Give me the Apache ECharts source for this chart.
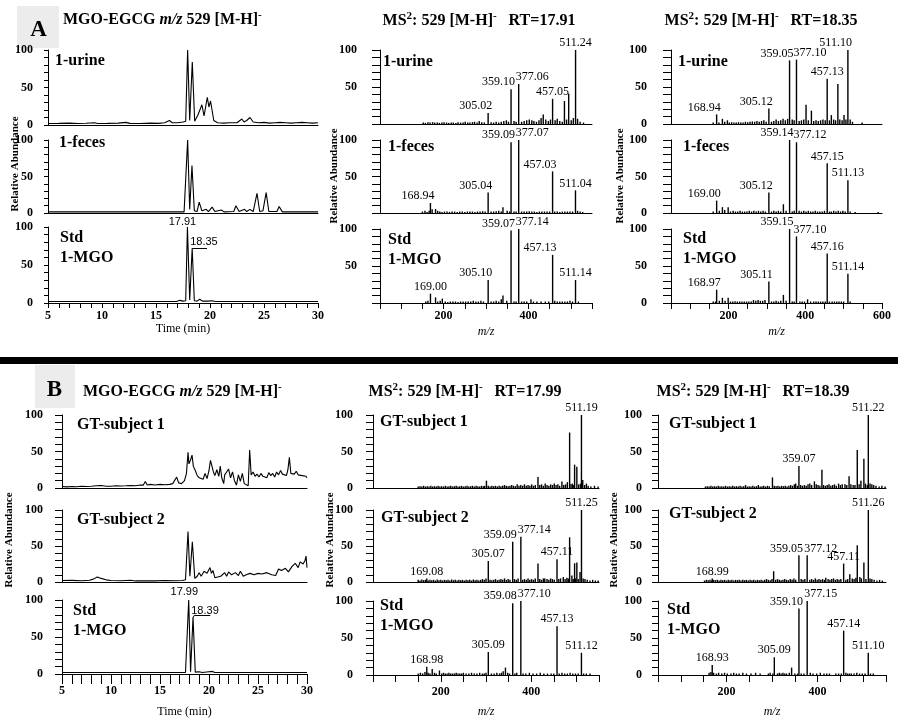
<!DOCTYPE html>
<html><head><meta charset="utf-8">
<script src="https://cdn.jsdelivr.net/npm/echarts@6/dist/echarts.min.js"></script>
<style>html,body{margin:0;padding:0;background:#fff}#c{width:902px;height:724px}</style>
</head><body><div id="c"></div>
<script>
// ---------------- DATA ----------------
// Extracted ion chromatograms: [time (min), relative abundance]
const xicA_urine = [[5,2],[6,2.2],[7,2.5],[7.8,2],[8.5,2.3],[9.3,3],[9.6,2],[10.5,2.2],[11.5,2.5],[12.2,3.5],[12.6,2.2],[13.5,2],[14.5,2.5],[15.2,2.2],[15.8,3],[16.25,6],[16.5,3],[17.0,3],[17.5,4],[17.75,5],[17.93,100],[18.12,6],[18.36,84],[18.58,5],[18.9,14],[19.25,27],[19.45,12],[19.75,37],[19.9,24],[20.05,32],[20.35,6],[20.7,3],[21.3,2.5],[21.8,3],[22.5,3],[22.95,8],[23.15,4],[23.4,6],[23.7,10],[24.0,4],[24.5,3],[25,3.5],[25.5,2.5],[26,3],[26.5,3.5],[27,3],[27.5,2.5],[28,3],[28.5,3.5],[29,3],[29.5,2.5],[30,3]];
const xicA_feces = [[5,1.5],[8,1.5],[11,1.5],[14,1.5],[17.6,1.5],[17.93,100],[18.12,5],[18.33,65],[18.55,3],[18.8,2],[19.0,15],[19.25,3],[19.65,5],[19.85,2],[20.2,8],[20.45,2],[21.05,4],[21.3,1.5],[22.2,2],[22.4,10],[22.7,2],[23.2,5],[23.4,2],[23.7,5],[24.0,2],[24.35,27],[24.6,2],[24.9,3],[25.2,28],[25.45,2],[26.2,2],[26.4,9],[26.7,1.5],[30,1.5]];
const xicA_std = [[5,2],[10,2],[15,2],[16.9,2],[17.2,3.5],[17.5,2.5],[17.75,3],[17.91,100],[18.12,4],[18.35,72],[18.55,3],[18.8,2.5],[19.05,5],[19.3,2.5],[19.8,2.5],[20.2,3],[20.5,2],[30,2]];
const xicB_gt1 = [[5,2],[5.5,1.5],[6,2],[6.5,1.8],[7,2.5],[7.5,2],[8,2.3],[8.5,3],[9,3.5],[9.5,2.5],[10,2.5],[10.5,3],[11,2.8],[11.5,3],[12,3.5],[12.5,3],[13,4],[13.3,4],[13.5,9],[13.7,4],[14,5],[14.5,4],[15,5],[15.5,4.5],[16,5],[16.3,6],[16.7,15],[16.9,7],[17.2,6],[17.5,10],[17.7,20],[17.86,49],[17.95,33],[18.1,38],[18.27,45],[18.4,30],[18.6,24],[18.8,17],[19.0,14],[19.2,16],[19.4,12],[19.6,20],[19.8,13],[20.0,24],[20.15,38],[20.3,30],[20.45,22],[20.6,17],[20.8,25],[21.0,16],[21.15,30],[21.3,14],[21.5,6],[21.6,18],[21.8,22],[22.0,26],[22.2,14],[22.4,22],[22.6,10],[22.8,4],[23.0,18],[23.2,9],[23.4,20],[23.6,6],[23.8,4],[24.0,3],[24.15,52],[24.3,18],[24.5,22],[24.7,16],[24.9,19],[25.1,15],[25.3,20],[25.5,16],[25.7,18],[25.9,14],[26.1,21],[26.3,17],[26.5,20],[26.7,15],[26.9,22],[27.1,18],[27.3,24],[27.5,19],[27.7,21],[27.9,17],[28.05,25],[28.2,42],[28.35,20],[28.5,22],[28.7,19],[28.9,23],[29.1,18],[29.3,20],[29.5,17],[29.7,19],[29.9,16],[30,14]];
const xicB_gt2 = [[5,2],[6,2.2],[7,1.8],[7.8,2.5],[8.2,4],[8.6,7],[9.0,5],[9.5,3],[10,2],[11,1.8],[12,2.5],[12.5,1.5],[13.5,1.8],[14.5,1.5],[15.5,2],[16.5,1.8],[17.3,2],[17.6,3],[17.86,70],[18.05,8],[18.3,56],[18.55,5],[18.8,8],[19.0,13],[19.2,8],[19.5,15],[19.8,12],[20.1,20],[20.25,12],[20.4,16],[20.6,6],[20.8,4],[21.2,8],[21.6,13],[21.8,8],[22.0,14],[22.3,10],[22.7,13],[23.0,9],[23.2,15],[23.5,8],[23.8,10],[24.2,12],[24.6,10],[25.0,12],[25.4,11],[25.9,13],[26.4,10],[26.8,9],[27.1,18],[27.4,16],[27.8,19],[28.1,14],[28.5,22],[28.8,26],[29.1,20],[29.3,28],[29.6,25],[29.8,30],[29.9,36],[30,20]];
const xicB_std = [[5,2],[10,2],[15,2],[17.6,2],[17.8,3],[17.93,100],[18.12,3],[18.37,77],[18.6,2.5],[19.0,3],[19.3,2],[20.0,3],[20.2,2],[20.35,3.5],[20.6,2],[30,2]];
// chromatogram peak annotations [time, abundance]
const annA = [[17.91,100],[18.35,72]];
const annB = [[17.99,100],[18.39,77]];

// MS2 spectra: labelled peaks [m/z, rel. abundance] and other peaks
const msA1_urine_pk = [[305.02,15],[359.10,47],[377.06,54],[457.05,34],[511.24,100]];
const msA1_urine_ot = [[152,2],[157,1.5],[163,2.5],[168,2],[174,2.5],[179,2],[185,2],[190,1.5],[196,2],[201,2.5],[207,2],[212,1.5],[218,2],[223,2],[229,1.5],[234,2.5],[240,2],[246,2],[251,3],[257,2],[262,2],[268,2.5],[273,3],[279,2],[284,4],[290,2.5],[296,2],[312,2.5],[318,2],[324,3],[330,2],[336,3],[342,4],[348,5],[353,3],[366,4],[371,3],[384,3],[390,4],[396,5],[402,6],[408,5],[413,4],[419,3],[425,5],[430,8],[435,13],[441,6],[447,4],[452,6],[463,5],[468,7],[474,4],[480,3],[485,31],[490,6],[495,41],[501,5],[506,8],[516,7],[522,3],[530,2]];
const msA1_feces_pk = [[168.94,13.6],[305.04,28],[359.09,97],[377.07,100],[457.03,57],[511.04,31]];
const msA1_feces_ot = [[150,2],[156,3],[161,1.5],[166,3],[173,5],[181,5.5],[186,3],[191,2],[196,1.5],[202,2],[208,2],[214,1.5],[220,2],[226,2],[232,1.5],[238,2],[244,2],[250,1.5],[256,2],[262,2],[268,2],[274,1.5],[280,2],[286,2],[292,2.5],[298,2],[312,2],[318,2],[324,2.5],[330,3],[336,2],[340,8],[350,3],[356,2],[366,2],[371,2],[384,2],[390,2],[396,2],[402,2.5],[408,2],[414,2],[420,1.5],[426,2],[432,2],[438,2],[444,2],[450,2],[462,2],[468,2],[474,1.5],[480,2],[486,2],[492,2],[498,2],[504,2],[516,3],[522,2],[528,1.5]];
const msA1_std_pk = [[169.00,12.6],[305.10,31],[359.07,98],[377.14,100],[457.13,65],[511.14,31]];
const msA1_std_ot = [[158,2],[163,3],[181,7.6],[186,2],[192,3],[197,6],[204,2],[210,1.5],[216,2],[222,2],[228,2],[234,1.5],[240,2],[246,2],[252,2],[258,2],[264,2],[270,3],[276,2],[282,2],[288,3],[294,2],[312,2],[318,2],[324,3],[330,2],[336,5],[340,10],[349,3],[366,2],[371,2],[384,2],[390,2],[396,2],[406,5],[412,2],[420,2],[430,2],[440,2],[448,2],[462,3],[468,2],[474,2],[480,2],[486,2],[492,2],[498,3],[504,2],[518,2]];

const msA2_urine_pk = [[168.94,13],[305.12,21],[359.05,86],[377.10,87],[457.13,61],[511.10,100]];
const msA2_urine_ot = [[160,2],[175,2],[184,7],[190,3],[197,5],[202,2],[208,2.5],[214,2],[220,2],[226,2.5],[232,2],[238,2],[244,3],[250,2.5],[256,3],[262,3.5],[268,3],[274,4],[280,3],[286,4],[292,5],[298,3],[312,3],[318,4],[324,6],[330,4],[336,5],[342,7],[348,5],[354,7],[366,6],[371,5],[384,4],[390,5],[396,6],[402,26],[408,5],[416,18],[422,4],[428,5],[434,4],[440,5],[446,6],[452,5],[463,5],[468,12],[474,6],[479,5],[485,54],[490,6],[496,5],[501,12],[506,6],[517,6],[523,3],[548,2]];
const msA2_feces_pk = [[169.00,17],[305.12,28],[359.14,100],[377.12,97],[457.15,68],[511.13,45]];
const msA2_feces_ot = [[160,2],[176,3],[184,8],[190,4],[199,8],[205,2],[212,3],[218,2],[224,2],[230,3],[236,2],[242,2],[248,2],[254,3],[260,2],[266,3],[272,2],[278,3],[284,2],[290,3],[296,2],[312,2],[318,3],[324,2],[330,3],[336,2],[343,12],[350,3],[366,2],[371,3],[384,3],[390,2],[396,3],[402,2],[408,3],[414,2],[420,2],[426,3],[432,2],[438,2],[444,2],[450,3],[463,2],[468,2],[474,3],[480,2],[486,3],[492,2],[498,3],[504,2],[517,2],[530,1.5],[590,1.5]];
const msA2_std_pk = [[168.97,18],[305.11,29],[359.15,100],[377.10,90],[457.16,67],[511.14,39.5]];
const msA2_std_ot = [[160,2],[166,2],[176,3],[184,7],[191,3],[199,7],[205,2],[211,2],[217,2.5],[223,2],[229,2],[235,2],[241,2],[247,2],[253,2],[259,2],[265,4],[271,3],[277,4],[283,3],[289,3],[295,4],[312,2],[318,2],[324,3],[330,2],[336,3],[343,11],[350,3],[366,2],[371,2],[386,2],[392,2],[398,2],[406,5],[414,2],[422,2],[428,2],[434,2],[440,2],[446,2],[452,2],[463,2],[470,2],[476,2],[482,2],[488,2],[494,2],[500,2],[517,2]];

const msB1_gt1_pk = [[511.19,100]];
const msB1_gt1_ot = [[485,76],[496,32],[501,29],[415,15],[301,10],[468,9],[514,11],[491,6],[150,2],[154,2.5],[158,2],[162,3],[166,2],[170,2.5],[174,2],[178,3],[182,2],[186,2.5],[190,2],[194,3],[198,2],[202,2.5],[206,2],[210,3],[214,2],[218,2.5],[222,3],[226,2],[230,2.5],[234,3],[238,2],[242,2.5],[246,3],[250,2],[254,2.5],[258,3],[262,2],[266,2.5],[270,3],[274,2],[278,3],[282,2.5],[286,2],[290,3],[294,2.5],[297,3],[305,3],[309,2],[313,3],[317,2.5],[321,3],[325,2],[329,3],[333,2.5],[337,3],[341,4],[345,3],[349,2.5],[353,3],[357,4],[361,3],[365,2.5],[369,5],[373,3],[377,4],[381,3],[385,5],[389,3],[393,4],[397,3],[401,5],[405,3],[409,4],[419,4],[423,5],[427,3],[431,6],[435,4],[439,3],[443,5],[447,4],[451,6],[455,4],[459,5],[463,3],[472,4],[476,5],[480,8],[488,5],[493,4],[505,5],[509,6],[518,4],[522,6],[526,3],[532,2],[540,3],[548,2]];
const msB1_gt2_pk = [[169.08,5],[305.07,29],[359.09,56],[377.14,63],[457.11,31.6],[511.25,100]];
const msB1_gt2_ot = [[415,25.6],[485,62],[496,26],[501,27],[490,9],[508,14],[471,7],[430,5],[150,3],[154,2],[158,3.5],[162,2.5],[166,3],[172,2],[176,3],[180,2.5],[184,3],[188,2],[192,3.5],[196,2.5],[200,3],[204,2],[208,3],[212,2.5],[216,3],[220,2],[224,3.5],[228,2.5],[232,3],[236,2],[240,3],[244,2.5],[248,3],[252,2],[256,3],[260,2.5],[264,3],[268,2],[272,3.5],[276,2.5],[280,3],[284,2],[288,3],[292,4],[296,3],[300,5],[309,3],[313,2.5],[317,3],[321,4],[325,2.5],[329,3],[333,4],[337,3],[341,5],[345,3],[349,4],[353,3],[363,4],[367,3],[371,5],[381,3],[385,4],[389,3],[393,5],[397,3],[401,4],[405,3],[409,5],[419,4],[423,3],[427,5],[435,4],[439,3],[443,5],[447,4],[451,3],[461,4],[465,5],[475,4],[479,6],[482,5],[493,4],[498,5],[504,4],[515,5],[519,4],[524,3],[530,2],[536,3],[542,2],[548,2]];
const msB1_std_pk = [[168.98,11],[305.09,31],[359.08,97],[377.10,100],[457.13,66],[511.12,30]];
const msB1_std_ot = [[343,10],[181,8],[197,6],[150,2],[155,3],[160,2],[165,4],[172,3],[176,2],[186,3],[190,2],[202,2],[206,3],[210,2],[214,2],[218,3],[222,2],[226,2],[230,2],[234,3],[238,2],[242,2],[246,2],[250,3],[256,2],[262,2],[268,3],[274,2],[280,2],[286,3],[292,2],[296,2],[300,3],[312,2],[318,2],[324,3],[330,2],[334,3],[338,5],[348,3],[352,2],[364,2],[368,3],[382,2],[388,2],[396,3],[404,2],[412,2],[420,3],[428,2],[436,2],[444,2],[450,2],[462,2],[468,3],[474,2],[480,2],[486,3],[492,2],[498,2],[504,2],[516,2],[522,2],[530,2]];

const msB2_gt1_pk = [[359.07,30],[511.22,100]];
const msB2_gt1_ot = [[487,52],[501.5,40],[409.5,25],[301,14.5],[469,16],[495,10],[515,6],[393,9],[352,6],[383,6],[425,5],[446,6],[460,5],[478,4],[154,2],[158,2.5],[162,2],[166,3],[170,2],[174,2.5],[178,2],[182,3],[186,2],[190,2.5],[194,2],[198,3],[202,2],[206,2.5],[210,2],[214,3],[218,2],[222,2.5],[226,2],[230,3],[234,2],[238,2.5],[242,4],[246,2],[250,2.5],[254,2],[258,3],[262,2],[266,2.5],[270,4],[274,2],[278,2.5],[282,3],[286,2],[290,3],[294,2.5],[305,3],[309,2.5],[313,3],[317,2],[321,3],[325,2.5],[329,3],[333,2],[337,3],[341,4],[345,3],[349,5],[356,3],[363,4],[367,3],[371,4],[375,3],[379,5],[387,4],[397,5],[401,4],[405,3],[413,4],[417,3],[421,4],[429,3],[433,4],[437,5],[441,3],[450,4],[454,5],[464,4],[473,5],[482,4],[491,5],[505,6],[509,4],[519,5],[523,4],[528,3],[535,2],[541,3],[548,2]];
const msB2_gt2_pk = [[168.99,5],[359.05,37],[377.12,37],[457.11,25.6],[511.26,100]];
const msB2_gt2_ot = [[487,51],[501.5,27],[303.6,15],[470.6,10.7],[492.7,7],[435,5],[418,6],[152,2],[156,3],[160,2.5],[164,3],[168,2],[172,3],[176,2.5],[180,3],[184,2],[188,3],[192,2.5],[196,3],[200,2],[204,3],[208,2.5],[212,3],[216,2],[220,3],[224,2.5],[228,3],[232,2],[236,3],[240,2.5],[244,3],[248,2],[252,3],[256,2.5],[260,3],[264,2],[268,3],[272,2.5],[276,3],[280,2],[284,3],[288,4],[292,3],[296,2.5],[300,4],[308,3],[312,4],[316,3],[320,2.5],[324,3],[328,4],[332,3],[336,2.5],[340,4],[344,3],[348,5],[352,3],[364,4],[368,3],[372,4],[383,3],[387,4],[391,3],[395,5],[399,3],[403,4],[407,3],[411,4],[415,3],[423,4],[427,3],[431,4],[439,3],[443,4],[447,3],[451,4],[462,3],[466,4],[476,5],[480,4],[484,6],[496,5],[506,4],[515,5],[519,4],[524,3],[530,2],[536,3],[542,2]];
const msB2_std_pk = [[168.93,13.5],[305.09,24],[359.10,90],[377.15,100],[457.14,60],[511.10,30]];
const msB2_std_ot = [[343,10],[162,3],[166,4],[172,3],[178,2],[183,3],[190,2],[196,3],[202,2],[210,2],[216,3],[222,2],[228,2],[236,3],[244,2],[254,2],[264,3],[274,2],[292,2],[296,3],[302,2],[312,2],[316,3],[320,2],[324,3],[328,2],[332,2],[338,3],[350,2],[356,2],[364,2],[370,2],[384,3],[390,2],[398,2],[406,3],[414,2],[420,2],[426,2],[440,2],[446,2],[452,2],[462,3],[466,2],[470,2],[474,2],[480,2],[486,3],[492,2],[498,2],[504,2],[516,2],[522,2]];

// text
const sampleA = ['1-urine','1-feces','Std\n1-MGO'];
const sampleB = ['GT-subject 1','GT-subject 2','Std\n1-MGO'];
const rtA = ['17.91','18.35'];
const rtB = ['17.99','18.39'];

// ---------------- LAYOUT / STYLE ----------------
const SERIF = "'Liberation Serif','Times New Roman',serif";
const SANS = "'Liberation Sans',Arial,sans-serif";
const stAL = {yTick:4, yMargin:15, xTick:5, xMargin:7, nameGap:19, zero:true};
const stAM = {yTick:8, yMargin:23, xTick:6, xMargin:7, nameGap:23, zero:false};
const stAR = {yTick:8, yMargin:24, xTick:6, xMargin:7, nameGap:23, zero:true};
const stBL = {yTick:7, yMargin:19, xTick:10, xMargin:11, nameGap:32, zero:true};
const stBM = {yTick:7, yMargin:20, xTick:7, xMargin:11, nameGap:31, zero:true};
const stBR = {yTick:6, yMargin:16, xTick:7, xMargin:11, nameGap:31, zero:true};

const panels = [
  {g:[48,50,270,75],  k:'c', d:xicA_urine, st:stAL},
  {g:[48,140,270,73], k:'c', d:xicA_feces, st:stAL},
  {g:[48,227,270,76], k:'c', d:xicA_std, st:stAL, last:true, ann:annA, annT:rtA, ann1:[-5,0], lead:[[0,0],[1.37,0]]},
  {g:[380,50,212,74], k:'m', max:550, pk:msA1_urine_pk, ot:msA1_urine_ot, al:['r','r','l','c','c'], st:stAM},
  {g:[380,140,212,73],k:'m', max:550, pk:msA1_feces_pk, ot:msA1_feces_ot, al:['r','r','r','l','r','c'], st:stAM},
  {g:[380,229,212,74],k:'m', max:550, pk:msA1_std_pk, ot:msA1_std_ot, al:['c','r','r','l','r','c'], st:stAM, last:true},
  {g:[671,50,211,74], k:'m', max:600, pk:msA2_urine_pk, ot:msA2_urine_ot, al:['r','r','r','l','c','r'], st:stAR},
  {g:[671,140,211,73],k:'m', max:600, pk:msA2_feces_pk, ot:msA2_feces_ot, al:['r','r','r','l','c','c'], st:stAR},
  {g:[671,229,211,74],k:'m', max:600, pk:msA2_std_pk, ot:msA2_std_ot, al:['r','r','r','l','c','c'], st:stAR, last:true},
  {g:[62,415,245,73], k:'c', d:xicB_gt1, st:stBL},
  {g:[62,510,245,72], k:'c', d:xicB_gt2, st:stBL},
  {g:[62,600,245,74], k:'c', d:xicB_std, st:stBL, last:true, ann:annB, annT:rtB, ann1:[-5,-3], lead:[[0,0],[0.16,3],[1.74,3]]},
  {g:[373,415,226,73],k:'m', max:550, pk:msB1_gt1_pk, ot:msB1_gt1_ot, al:['c'], st:stBM},
  {g:[373,510,226,72],k:'m', max:550, pk:msB1_gt2_pk, ot:msB1_gt2_ot, al:['c','c','r','l','c','c'], st:stBM},
  {g:[373,601,226,74],k:'m', max:550, pk:msB1_std_pk, ot:msB1_std_ot, al:['c','c','r','l','c','c'], st:stBM, last:true},
  {g:[658,415,228,73],k:'m', max:550, pk:msB2_gt1_pk, ot:msB2_gt1_ot, al:['c','c'], st:stBR},
  {g:[658,510,228,72],k:'m', max:550, pk:msB2_gt2_pk, ot:msB2_gt2_ot, al:['c','r','l','c','c'], st:stBR},
  {g:[658,601,228,74],k:'m', max:550, pk:msB2_std_pk, ot:msB2_std_ot, al:['c','c','r','l','c','c'], st:stBR, last:true}
];

// sample-name text positions (left x, centre y of first line)
const sampleTextPos = [
  [55,61,sampleA[0]],[59,143,sampleA[1]],[60,238,sampleA[2]],
  [383,62,sampleA[0]],[388,147,sampleA[1]],[388,240,sampleA[2]],
  [678,62,sampleA[0]],[683,147,sampleA[1]],[683,239,sampleA[2]],
  [77,425,sampleB[0]],[77,520,sampleB[1]],[73,611,sampleB[2]],
  [380,422,sampleB[0]],[381,518,sampleB[1]],[380,606,sampleB[2]],
  [669,424,sampleB[0]],[669,514,sampleB[1]],[667,610,sampleB[2]]
];

const grids=[], xAxes=[], yAxes=[], series=[], graphic=[];
panels.forEach((p,i)=>{
  const isC = p.k==='c';
  const last = !!p.last;
  grids.push({left:p.g[0], top:p.g[1], width:p.g[2], height:p.g[3]});
  xAxes.push({
    gridIndex:i, type:'value', min:isC?5:50, max:isC?30:p.max, interval:isC?1:50,
    axisLine:{show:true, onZero:false, lineStyle:{color:'#000', width:1}},
    axisTick:{show:last, length:p.st.xTick, lineStyle:{color:'#000', width:1}},
    axisLabel:{show:last, margin:p.st.xMargin, color:'#000', fontFamily:SERIF, fontWeight:'bold', fontSize:12,
      formatter:(v)=> isC ? (Math.round(v)%5===0 ? String(Math.round(v)) : '') : (Math.round(v)%200===0 ? String(Math.round(v)) : '')},
    splitLine:{show:false},
    name:last ? (isC ? 'Time (min)' : 'm/z') : '',
    nameLocation:'middle', nameGap:p.st.nameGap,
    nameTextStyle:{fontFamily:SERIF, fontSize:12, color:'#000', fontStyle:isC?'normal':'italic'}
  });
  const zero = p.st.zero;
  yAxes.push({
    gridIndex:i, type:'value', min:0, max:100, interval:10,
    axisLine:{show:true, onZero:false, lineStyle:{color:'#000', width:1}},
    axisTick:{show:true, length:p.st.yTick, lineStyle:{color:'#000', width:1}},
    axisLabel:{show:true, margin:p.st.yMargin, color:'#000', fontFamily:SERIF, fontWeight:'bold', fontSize:12,
      formatter:(v)=> (v===100||v===50) ? String(v) : (v===0 && zero ? '0' : '')},
    splitLine:{show:false}
  });
  if (isC) {
    const s = {type:'line', xAxisIndex:i, yAxisIndex:i, data:p.d, showSymbol:false, symbol:'none',
      lineStyle:{color:'#000', width:1.1}, silent:true, animation:false, z:3};
    if (p.ann) {
      s.markPoint = {symbol:'circle', symbolSize:0, silent:true, animation:false,
        data:[
          {coord:p.ann[0], label:{show:true, formatter:p.annT[0], position:[0,0], align:'center', verticalAlign:'bottom', offset:p.ann1, fontFamily:SANS, fontSize:11, color:'#000'}},
          {coord:p.ann[1], label:{show:true, formatter:p.annT[1], position:[0,0], align:'left', verticalAlign:'bottom', offset:[-2,-1], fontFamily:SANS, fontSize:11, color:'#000'}}
        ]};
      const pts = p.lead.map(o=>({coord:[p.ann[1][0]+o[0], p.ann[1][1]+o[1]]}));
      const segs=[];
      for (let j=0;j<pts.length-1;j++) segs.push([pts[j],pts[j+1]]);
      s.markLine = {symbol:['none','none'], silent:true, animation:false, label:{show:false},
        lineStyle:{color:'#000', width:1, type:'solid'}, data:segs};
    }
    series.push(s);
  } else {
    series.push({type:'bar', xAxisIndex:i, yAxisIndex:i, data:p.ot, barWidth:1.4, barGap:'-100%',
      itemStyle:{color:'#000'}, silent:true, animation:false});
    series.push({type:'bar', xAxisIndex:i, yAxisIndex:i, barWidth:1.4, barGap:'-100%',
      itemStyle:{color:'#000'}, silent:true, animation:false,
      label:{show:true, position:'top', distance:1, fontFamily:SERIF, fontSize:12, color:'#000',
        formatter:(d)=> d.value[0].toFixed(2)},
      data:p.pk.map((v,j)=>{
        const a = p.al[j];
        const lab = a==='r' ? {align:'right', offset:[4,0]} : a==='l' ? {align:'left', offset:[-3,0]} : {align:'center'};
        return {value:v, label:lab};
      })});
  }
});

// decorations and titles
const richT = {
  b:{fontFamily:SERIF, fontWeight:'bold', fontSize:16, color:'#000', lineHeight:20},
  i:{fontFamily:SERIF, fontWeight:'bold', fontStyle:'italic', fontSize:16, color:'#000', lineHeight:20},
  s:{fontFamily:SERIF, fontWeight:'bold', fontSize:11, color:'#000', lineHeight:11, verticalAlign:'top'}
};
function title(x,y,txt,align){
  return {type:'text', x:x, y:y, silent:true, style:{text:txt, rich:richT, align:align, verticalAlign:'middle', textAlign:align, textVerticalAlign:'middle'}};
}
graphic.push({type:'rect', shape:{x:17,y:6,width:42,height:42}, style:{fill:'#ececec'}, silent:true});
graphic.push({type:'rect', shape:{x:35,y:365,width:40,height:43}, style:{fill:'#ececec'}, silent:true});
graphic.push({type:'text', x:38.5, y:30, silent:true, style:{text:'A', fontFamily:SERIF, fontWeight:'bold', fontSize:23, fill:'#000', align:'center', verticalAlign:'middle', textAlign:'center', textVerticalAlign:'middle'}});
graphic.push({type:'text', x:54.5, y:390, silent:true, style:{text:'B', fontFamily:SERIF, fontWeight:'bold', fontSize:23, fill:'#000', align:'center', verticalAlign:'middle', textAlign:'center', textVerticalAlign:'middle'}});
graphic.push({type:'rect', shape:{x:0,y:357,width:898,height:7}, style:{fill:'#000'}, silent:true});
const t1 = '{b|MGO-EGCG }{i|m/z}{b| 529 [M-H]}{s|-}';
graphic.push(title(63,20,t1,'left'));
graphic.push(title(83,392,t1,'left'));
graphic.push(title(479,21,'{b|MS}{s|2}{b|: 529 [M-H]}{s|-}{b|   RT='+rtA[0]+'}','center'));
graphic.push(title(761,21,'{b|MS}{s|2}{b|: 529 [M-H]}{s|-}{b|   RT='+rtA[1]+'}','center'));
graphic.push(title(465,392,'{b|MS}{s|2}{b|: 529 [M-H]}{s|-}{b|   RT='+rtB[0]+'}','center'));
graphic.push(title(753,392,'{b|MS}{s|2}{b|: 529 [M-H]}{s|-}{b|   RT='+rtB[1]+'}','center'));
[[15,164],[334,176],[620,176],[9,540],[330,540],[614,540]].forEach(q=>{
  graphic.push({type:'text', x:q[0], y:q[1], rotation:Math.PI/2, silent:true,
    style:{text:'Relative Abundance', fontFamily:SERIF, fontWeight:'bold', fontSize:11, fill:'#000', align:'center', verticalAlign:'middle', textAlign:'center', textVerticalAlign:'middle'}});
});
sampleTextPos.forEach(q=>{
  graphic.push({type:'text', x:q[0], y:q[1]-10, silent:true,
    style:{text:q[2], fontFamily:SERIF, fontWeight:'bold', fontSize:16, lineHeight:20, fill:'#000', align:'left', verticalAlign:'top', textAlign:'left', textVerticalAlign:'top'}});
});

const chart = echarts.init(document.getElementById('c'), null, {renderer:'canvas'});
chart.setOption({
  backgroundColor:'#fff', animation:false,
  grid:grids.map(g=>Object.assign({outerBoundsMode:'none', containLabel:false}, g)),
  xAxis:xAxes, yAxis:yAxes, series:series, graphic:graphic
});
</script></body></html>
